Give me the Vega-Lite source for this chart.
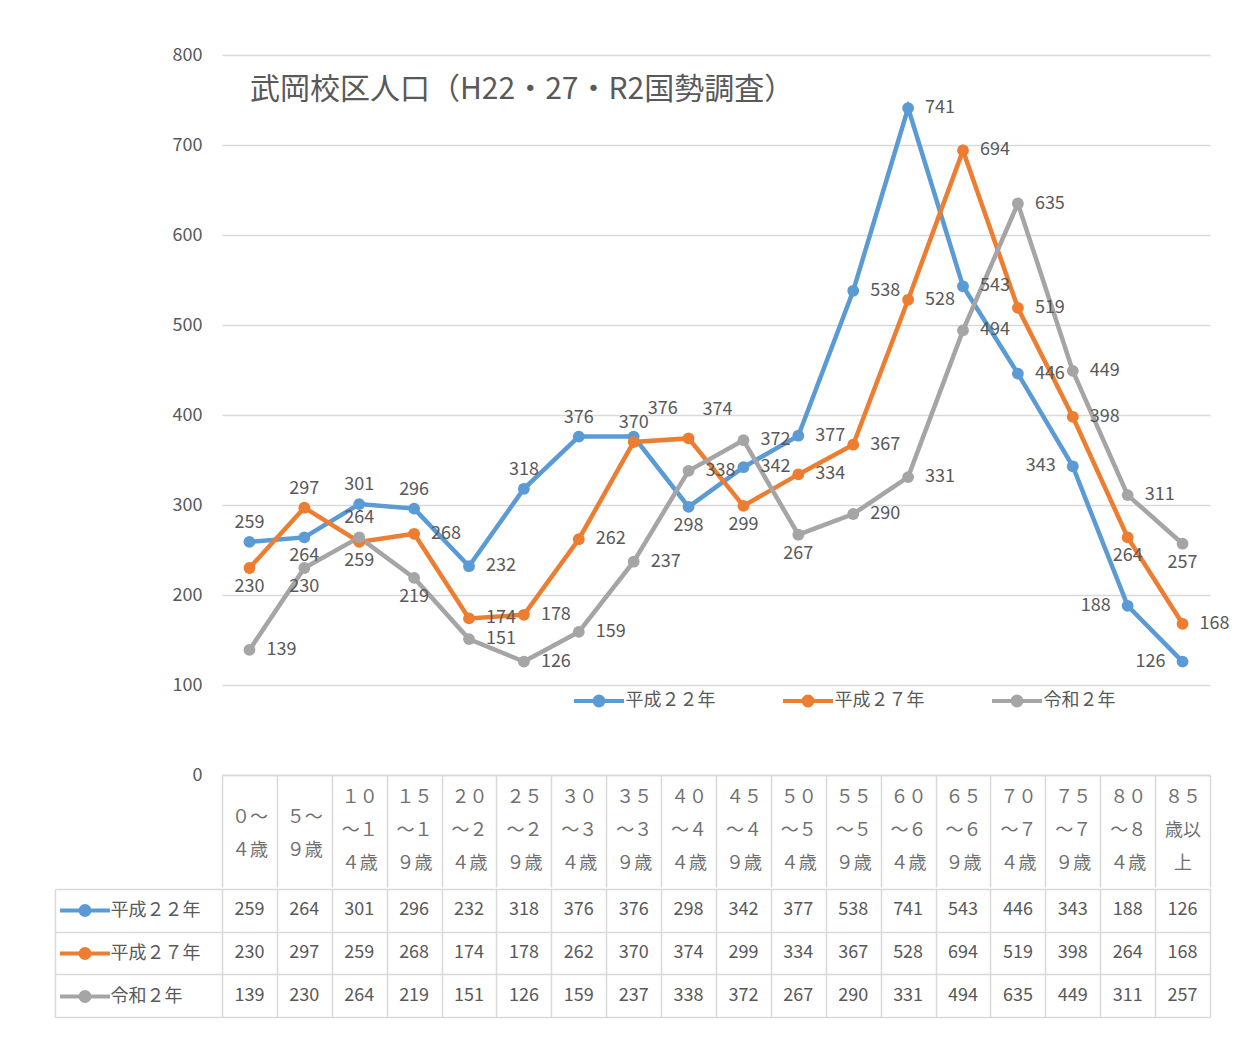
{
  "$schema": "https://vega.github.io/schema/vega-lite/v6.json",
  "background": "white",
  "padding": {"left": 54, "top": 46, "right": 10, "bottom": 10},
  "autosize": {"type": "pad"},
  "spacing": 0,
  "config": {"font": "Noto Sans CJK JP", "view": {"stroke": null}},
  "resolve": {"legend": {"color": "independent"}},
  "data": {"values": [
    {"age": "０～４歳", "series": "平成２２年", "value": 259},
    {"age": "５～９歳", "series": "平成２２年", "value": 264},
    {"age": "１０～１４歳", "series": "平成２２年", "value": 301},
    {"age": "１５～１９歳", "series": "平成２２年", "value": 296},
    {"age": "２０～２４歳", "series": "平成２２年", "value": 232},
    {"age": "２５～２９歳", "series": "平成２２年", "value": 318},
    {"age": "３０～３４歳", "series": "平成２２年", "value": 376},
    {"age": "３５～３９歳", "series": "平成２２年", "value": 376},
    {"age": "４０～４４歳", "series": "平成２２年", "value": 298},
    {"age": "４５～４９歳", "series": "平成２２年", "value": 342},
    {"age": "５０～５４歳", "series": "平成２２年", "value": 377},
    {"age": "５５～５９歳", "series": "平成２２年", "value": 538},
    {"age": "６０～６４歳", "series": "平成２２年", "value": 741},
    {"age": "６５～６９歳", "series": "平成２２年", "value": 543},
    {"age": "７０～７４歳", "series": "平成２２年", "value": 446},
    {"age": "７５～７９歳", "series": "平成２２年", "value": 343},
    {"age": "８０～８４歳", "series": "平成２２年", "value": 188},
    {"age": "８５歳以上", "series": "平成２２年", "value": 126},
    {"age": "０～４歳", "series": "平成２７年", "value": 230},
    {"age": "５～９歳", "series": "平成２７年", "value": 297},
    {"age": "１０～１４歳", "series": "平成２７年", "value": 259},
    {"age": "１５～１９歳", "series": "平成２７年", "value": 268},
    {"age": "２０～２４歳", "series": "平成２７年", "value": 174},
    {"age": "２５～２９歳", "series": "平成２７年", "value": 178},
    {"age": "３０～３４歳", "series": "平成２７年", "value": 262},
    {"age": "３５～３９歳", "series": "平成２７年", "value": 370},
    {"age": "４０～４４歳", "series": "平成２７年", "value": 374},
    {"age": "４５～４９歳", "series": "平成２７年", "value": 299},
    {"age": "５０～５４歳", "series": "平成２７年", "value": 334},
    {"age": "５５～５９歳", "series": "平成２７年", "value": 367},
    {"age": "６０～６４歳", "series": "平成２７年", "value": 528},
    {"age": "６５～６９歳", "series": "平成２７年", "value": 694},
    {"age": "７０～７４歳", "series": "平成２７年", "value": 519},
    {"age": "７５～７９歳", "series": "平成２７年", "value": 398},
    {"age": "８０～８４歳", "series": "平成２７年", "value": 264},
    {"age": "８５歳以上", "series": "平成２７年", "value": 168},
    {"age": "０～４歳", "series": "令和２年", "value": 139},
    {"age": "５～９歳", "series": "令和２年", "value": 230},
    {"age": "１０～１４歳", "series": "令和２年", "value": 264},
    {"age": "１５～１９歳", "series": "令和２年", "value": 219},
    {"age": "２０～２４歳", "series": "令和２年", "value": 151},
    {"age": "２５～２９歳", "series": "令和２年", "value": 126},
    {"age": "３０～３４歳", "series": "令和２年", "value": 159},
    {"age": "３５～３９歳", "series": "令和２年", "value": 237},
    {"age": "４０～４４歳", "series": "令和２年", "value": 338},
    {"age": "４５～４９歳", "series": "令和２年", "value": 372},
    {"age": "５０～５４歳", "series": "令和２年", "value": 267},
    {"age": "５５～５９歳", "series": "令和２年", "value": 290},
    {"age": "６０～６４歳", "series": "令和２年", "value": 331},
    {"age": "６５～６９歳", "series": "令和２年", "value": 494},
    {"age": "７０～７４歳", "series": "令和２年", "value": 635},
    {"age": "７５～７９歳", "series": "令和２年", "value": 449},
    {"age": "８０～８４歳", "series": "令和２年", "value": 311},
    {"age": "８５歳以上", "series": "令和２年", "value": 257}
  ]},
  "vconcat": [
    {
      "width": 988,
      "height": 720,
      "title": {"text": "武岡校区人口（H22・27・R2国勢調査）", "anchor": "start", "frame": "group", "offset": -74, "dx": 28, "fontSize": 30, "fontWeight": "normal", "color": "#595959", "baseline": "middle"},
      "encoding": {
        "x": {"field": "age", "type": "nominal", "bandPosition": 0.5,
          "sort": ["０～４歳","５～９歳","１０～１４歳","１５～１９歳","２０～２４歳","２５～２９歳","３０～３４歳","３５～３９歳","４０～４４歳","４５～４９歳","５０～５４歳","５５～５９歳","６０～６４歳","６５～６９歳","７０～７４歳","７５～７９歳","８０～８４歳","８５歳以上"],
          "scale": {"type": "band", "paddingInner": 0, "paddingOuter": 0},
          "axis": {"title": null, "orient": "bottom", "domainColor": "#d9d9d9", "domainWidth": 1.5, "tickColor": "#d9d9d9", "tickWidth": 1.5, "tickSize": 112, "tickBand": "extent",
            "labelPadding": {"condition": {"test": "length(datum.label) > 4", "value": -90}, "value": -70},
            "labelBaseline": "middle", "labelLineHeight": 33, "labelAngle": 0, "labelFontSize": 18, "labelColor": "#707070", "labelOverlap": false, "labelBound": false, "labelFlush": false, "labelLimit": 0,
            "labelExpr": "length(datum.label) > 4 ? [substring(datum.label,0,2), substring(datum.label,2,4), substring(datum.label,4)] : [substring(datum.label,0,2), substring(datum.label,2)]"}
        },
        "y": {"field": "value", "type": "quantitative",
          "scale": {"domain": [0, 800], "nice": false},
          "axis": {"title": null, "values": [0,100,200,300,400,500,600,700,800], "grid": true, "gridColor": "#d9d9d9", "gridWidth": 1.5, "domain": false, "ticks": false, "labelFontSize": 18, "labelColor": "#595959", "labelPadding": 20}
        }
      },
      "layer": [
        {
          "mark": {"type": "line", "strokeWidth": 4.5, "point": {"filled": true, "size": 140}},
          "encoding": {
            "color": {"field": "series", "type": "nominal",
              "scale": {"domain": ["平成２２年","平成２７年","令和２年"], "range": ["#5B9BD5","#ED7D31","#A5A5A5"]},
              "legend": {"title": null, "orient": "none", "legendX": 362.5, "legendY": 631.5, "direction": "horizontal", "columnPadding": 59, "padding": 0,
                "symbolType": "M-2,0H2M-0.36,0A0.36,0.36 0 1,0 0.36,0A0.36,0.36 0 1,0 -0.36,0Z", "symbolSize": 625, "symbolStrokeWidth": 4, "symbolOpacity": 1,
                "labelOffset": 12, "labelFontSize": 18, "labelColor": "#595959",
                "encode": {"symbols": {"update": {"fill": {"scale": "color", "field": "value"}, "stroke": {"scale": "color", "field": "value"}}}}}
            }
          }
        },
        {
          "transform": [{"filter": "!(((datum.series==='平成２２年'&&indexof(['０～４歳','１０～１４歳','１５～１９歳','２５～２９歳','３０～３４歳'],datum.age)>=0)||(datum.series==='平成２７年'&&indexof(['５～９歳','３５～３９歳'],datum.age)>=0)||(datum.series==='令和２年'&&datum.age==='１０～１４歳'))||((datum.series==='平成２２年'&&datum.age==='３５～３９歳')||(datum.series==='平成２７年'&&datum.age==='４０～４４歳'))||((datum.series==='平成２２年'&&indexof(['５～９歳','４０～４４歳'],datum.age)>=0)||(datum.series==='平成２７年'&&indexof(['０～４歳','１０～１４歳','４５～４９歳','８０～８４歳'],datum.age)>=0)||(datum.series==='令和２年'&&indexof(['５～９歳','１５～１９歳','５０～５４歳','８５歳以上'],datum.age)>=0))||(datum.series==='平成２２年'&&indexof(['７５～７９歳','８０～８４歳','８５歳以上'],datum.age)>=0))"}],
          "mark": {"type": "text", "align": "left", "baseline": "middle", "dx": 17, "fontSize": 18, "color": "#595959"},
          "encoding": {"text": {"field": "value", "type": "quantitative"}}
        },
        {
          "transform": [{"filter": "(datum.series==='平成２２年'&&indexof(['０～４歳','１０～１４歳','１５～１９歳','２５～２９歳','３０～３４歳'],datum.age)>=0)||(datum.series==='平成２７年'&&indexof(['５～９歳','３５～３９歳'],datum.age)>=0)||(datum.series==='令和２年'&&datum.age==='１０～１４歳')"}],
          "mark": {"type": "text", "align": "center", "baseline": "bottom", "dy": -10, "fontSize": 18, "color": "#595959"},
          "encoding": {"text": {"field": "value", "type": "quantitative"}}
        },
        {
          "transform": [{"filter": "(datum.series==='平成２２年'&&datum.age==='３５～３９歳')||(datum.series==='平成２７年'&&datum.age==='４０～４４歳')"}],
          "mark": {"type": "text", "align": "left", "baseline": "middle", "dx": 14, "dy": -28, "fontSize": 18, "color": "#595959"},
          "encoding": {"text": {"field": "value", "type": "quantitative"}}
        },
        {
          "transform": [{"filter": "(datum.series==='平成２２年'&&indexof(['５～９歳','４０～４４歳'],datum.age)>=0)||(datum.series==='平成２７年'&&indexof(['０～４歳','１０～１４歳','４５～４９歳','８０～８４歳'],datum.age)>=0)||(datum.series==='令和２年'&&indexof(['５～９歳','１５～１９歳','５０～５４歳','８５歳以上'],datum.age)>=0)"}],
          "mark": {"type": "text", "align": "center", "baseline": "top", "dy": 10, "fontSize": 18, "color": "#595959"},
          "encoding": {"text": {"field": "value", "type": "quantitative"}}
        },
        {
          "transform": [{"filter": "datum.series==='平成２２年'&&indexof(['７５～７９歳','８０～８４歳','８５歳以上'],datum.age)>=0"}],
          "mark": {"type": "text", "align": "right", "baseline": "middle", "dx": -17, "fontSize": 18, "color": "#595959"},
          "encoding": {"text": {"field": "value", "type": "quantitative"}}
        }
      ]
    },
    {
      "width": 988,
      "height": 128,
      "encoding": {
        "x": {"field": "age", "type": "nominal",
          "sort": ["０～４歳","５～９歳","１０～１４歳","１５～１９歳","２０～２４歳","２５～２９歳","３０～３４歳","３５～３９歳","４０～４４歳","４５～４９歳","５０～５４歳","５５～５９歳","６０～６４歳","６５～６９歳","７０～７４歳","７５～７９歳","８０～８４歳","８５歳以上"],
          "scale": {"type": "band", "paddingInner": 0, "paddingOuter": 0},
          "axis": {"title": null, "labels": false, "ticks": false, "domain": false, "grid": true, "gridColor": "#d9d9d9", "gridWidth": 1.5, "tickBand": "extent"}
        },
        "y": {"field": "series", "type": "nominal",
          "sort": ["平成２２年","平成２７年","令和２年"],
          "scale": {"type": "band", "paddingInner": 0, "paddingOuter": 0},
          "axis": {"title": null, "labels": false, "offset": 167, "tickSize": -167, "tickColor": "#d9d9d9", "tickWidth": 1.5, "domainColor": "#d9d9d9", "domainWidth": 1.5, "tickBand": "extent", "grid": true, "gridColor": "#d9d9d9", "gridWidth": 1.5}
        }
      },
      "layer": [
        {
          "mark": {"type": "text", "fontSize": 18, "color": "#595959"},
          "encoding": {"text": {"field": "value", "type": "quantitative"}}
        },
        {
          "mark": {"type": "line", "opacity": 0},
          "encoding": {
            "color": {"field": "series", "type": "nominal",
              "legend": {"title": null, "orient": "none", "legendX": -151.5, "legendY": 7, "direction": "vertical", "rowPadding": 16, "padding": 0,
                "symbolType": "M-2,0H2M-0.36,0A0.36,0.36 0 1,0 0.36,0A0.36,0.36 0 1,0 -0.36,0Z", "symbolSize": 625, "symbolStrokeWidth": 4, "symbolOpacity": 1,
                "labelOffset": 11, "labelFontSize": 18, "labelColor": "#595959",
                "encode": {"symbols": {"update": {"fill": {"scale": "color", "field": "value"}, "stroke": {"scale": "color", "field": "value"}, "opacity": {"value": 1}}}}}
            }
          }
        }
      ]
    }
  ]
}
